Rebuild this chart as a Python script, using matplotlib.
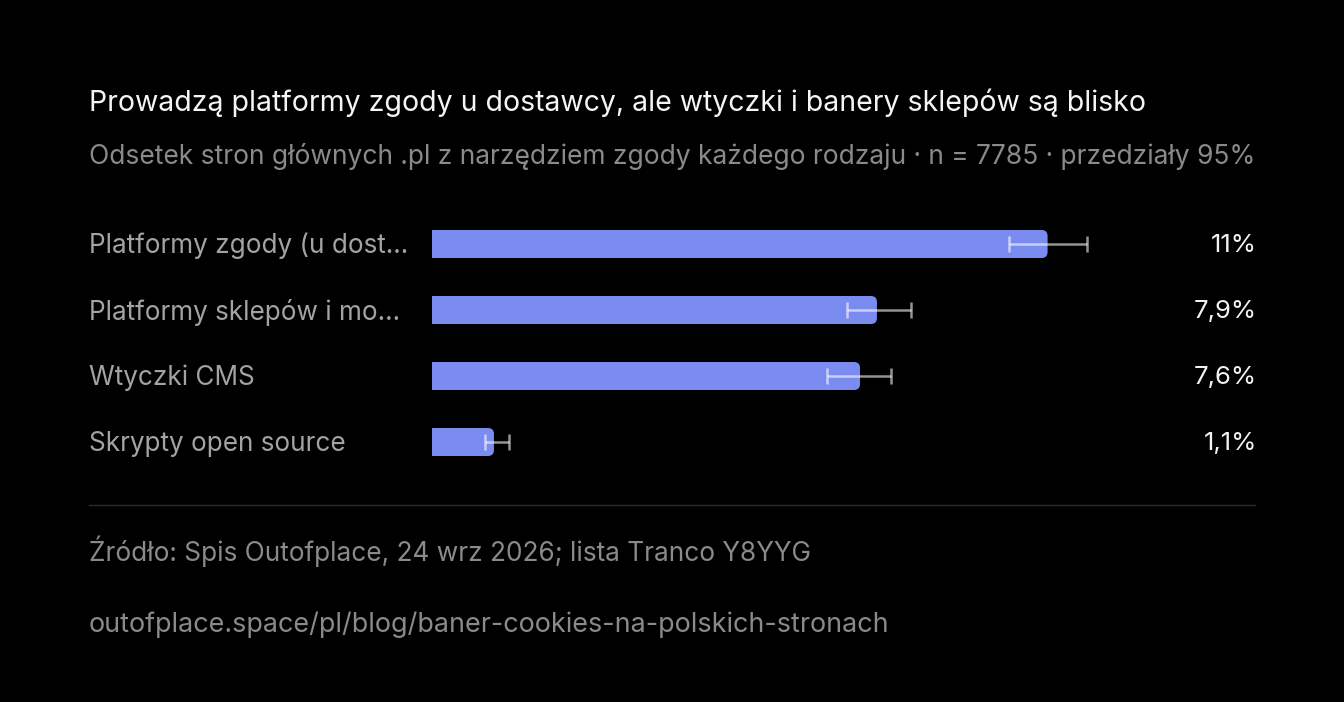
import matplotlib
matplotlib.use("Agg")
import matplotlib.pyplot as plt
from matplotlib.patches import FancyBboxPatch, Rectangle
from matplotlib import transforms

categories = ["Platformy zgody (u dost…", "Platformy sklepów i mo…", "Wtyczki CMS", "Skrypty open source"]
values = [10.93, 7.9, 7.6, 1.1]
ci_low = [10.25, 7.37, 7.02, 0.94]
ci_high = [11.63, 8.51, 8.15, 1.37]
value_labels = ["11%", "7,9%", "7,6%", "1,1%"]

title = "Prowadzą platformy zgody u dostawcy, ale wtyczki i banery sklepów są blisko"
subtitle = "Odsetek stron głównych .pl z narzędziem zgody każdego rodzaju · n = 7785 · przedziały 95%"
source = "Źródło: Spis Outofplace, 24 wrz 2026; lista Tranco Y8YYG"
url = "outofplace.space/pl/blog/baner-cookies-na-polskich-stronach"

plt.rcParams['font.family'] = ['Inter', 'DejaVu Sans']

W, H = 1344, 702
fig = plt.figure(figsize=(W / 100, H / 100), dpi=100, facecolor="#000000")

def fx(px):
    return px / W

def fy(py):
    return 1 - py / H

ax_left, ax_right = 432, 1136
ax_top, ax_bot = 211, 475
ax = fig.add_axes([fx(ax_left), fy(ax_bot), fx(ax_right - ax_left), (ax_bot - ax_top) / H])
ax.set_facecolor("#000000")
ax.set_xlim(0, 12.5)
ax.set_ylim(len(categories) - 0.5, -0.5)
ax.axis("off")

bar_color = "#7b8cf0"
bar_h = 28 / 66
px_per_x = (ax_right - ax_left) / 12.5
px_per_y = 66.0
r_px = 6
rx = r_px / px_per_x
ry = r_px / px_per_y

ypos = list(range(len(categories)))
bars = ax.barh(ypos, values, height=bar_h, color=bar_color, alpha=0)
for b in bars:
    x0, y0, w, h = b.get_x(), b.get_y(), b.get_width(), b.get_height()
    ax.add_patch(FancyBboxPatch((x0, y0), w, h,
                                boxstyle=f"round,pad=0,rounding_size={rx}",
                                mutation_aspect=ry / rx,
                                facecolor=bar_color, edgecolor="none", zorder=2))
    ax.add_patch(Rectangle((x0, y0), max(w - rx * 1.5, 0), h,
                           facecolor=bar_color, edgecolor="none", zorder=2))

xerr = [[v - lo for v, lo in zip(values, ci_low)], [hi - v for v, hi in zip(values, ci_high)]]
ax.errorbar(values, ypos, xerr=xerr, fmt="none", ecolor=(1, 1, 1, 0.58),
            elinewidth=1.8, capsize=6, capthick=1.8, zorder=3)

tr = transforms.blended_transform_factory(fig.transFigure, ax.transData)
dy = 2 / px_per_y
for y, cat, lab in zip(ypos, categories, value_labels):
    ax.text(fx(89), y + dy, cat, transform=tr, ha="left", va="center",
            fontsize=18.8, color="#a3a3a3")
    ax.text(fx(1257), y + dy, lab, transform=tr, ha="right", va="center",
            fontsize=18.5, color="#f2f2f2")

fig.text(fx(89), fy(103), title, ha="left", va="center", fontsize=20.5, color="#f5f5f5")
fig.text(fx(89), fy(157), subtitle, ha="left", va="center", fontsize=19, color="#8a8a8a")

fig.add_artist(plt.Line2D([fx(89), fx(1255)], [fy(505), fy(505)], color="#2b2b2b", lw=1))

fig.text(fx(89), fy(551), source, ha="left", va="center", fontsize=18.9, color="#8a8a8a")
fig.text(fx(89), fy(625), url, ha="left", va="center", fontsize=19.4, color="#8a8a8a")

fig.savefig("out.png", dpi=100, facecolor="#000000")
